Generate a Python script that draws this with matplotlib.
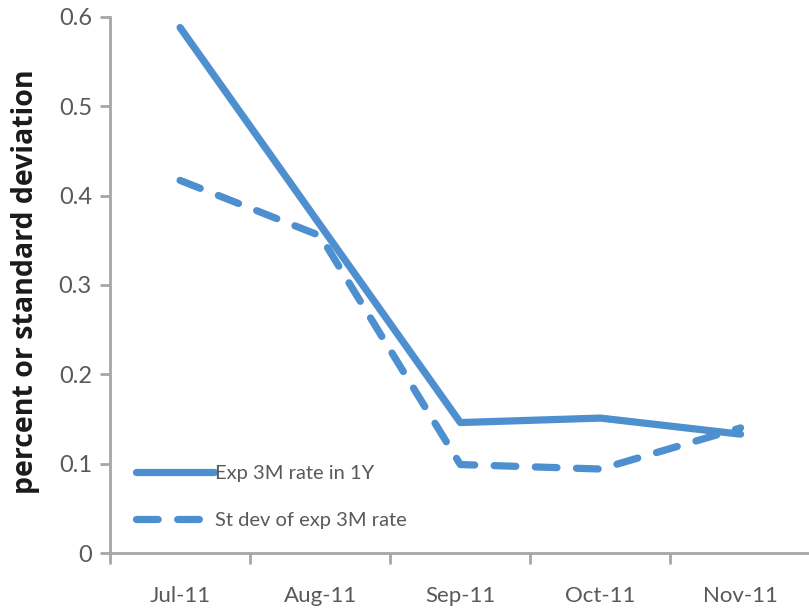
import numpy as np
import matplotlib
matplotlib.use("Agg")
import matplotlib.pyplot as plt
from matplotlib.ticker import FixedLocator, MultipleLocator

plt.rcParams["font.family"] = ["Lato", "DejaVu Sans"]

# monthly readings
months = ["Jul-11", "Aug-11", "Sep-11", "Oct-11", "Nov-11"]
exp_rate = [0.588, 0.367, 0.146, 0.151, 0.133]
exp_std = [0.417, 0.355, 0.099, 0.094, 0.140]

blue = "#4d8fcf"
axis_grey = "#a6a6a6"
text_grey = "#595959"

fig = plt.figure(figsize=(8.09, 6.10), dpi=100)
ax = fig.add_axes([0.136, 0.0934, 0.866, 0.879])

x = np.arange(len(months))
ax.plot(x, exp_rate, color=blue, lw=5.2, solid_capstyle="round",
        solid_joinstyle="round", label="Exp 3M rate in 1Y")
ax.plot(x, exp_std, color=blue, lw=5.2, dashes=(3.0, 2.7),
        dash_capstyle="round", dash_joinstyle="round",
        label="St dev of exp 3M rate")

ax.set_xlim(-0.5, len(months) - 0.5)
ax.set_ylim(0, 0.6)
ax.yaxis.set_major_locator(MultipleLocator(0.1))
ax.set_yticklabels(["0" if v == 0 else f"{v:.1f}" for v in ax.get_yticks()])

# category labels centred, tick marks on the boundaries
ax.set_xticks(x)
ax.set_xticklabels(months)
ax.xaxis.set_minor_locator(FixedLocator(np.arange(-0.5, len(months) + 0.5, 1)))
ax.tick_params(axis="x", which="major", length=0, pad=24, labelsize=16,
               labelcolor=text_grey)
ax.tick_params(axis="x", which="minor", length=8, width=2, color=axis_grey,
               direction="out")
ax.tick_params(axis="y", length=7, width=2, color=axis_grey, pad=6,
               labelsize=17, labelcolor=text_grey)

for side in ("top", "right"):
    ax.spines[side].set_visible(False)
for side in ("left", "bottom"):
    ax.spines[side].set_color(axis_grey)
    ax.spines[side].set_linewidth(2)

ax.set_ylabel("percent or standard deviation", fontsize=20.5, fontweight="bold",
              color="#1a1a1a", family=["Open Sans", "DejaVu Sans"])
ax.yaxis.set_label_coords(-0.1, 0.506)

leg = ax.legend(loc="lower left", bbox_to_anchor=(0.025, 0.03), frameon=False,
                fontsize=14.5, handlelength=3.9, handletextpad=0.05,
                labelspacing=1.5, borderaxespad=0)
for t in leg.get_texts():
    t.set_color(text_grey)

fig.savefig("out.png", dpi=100)
